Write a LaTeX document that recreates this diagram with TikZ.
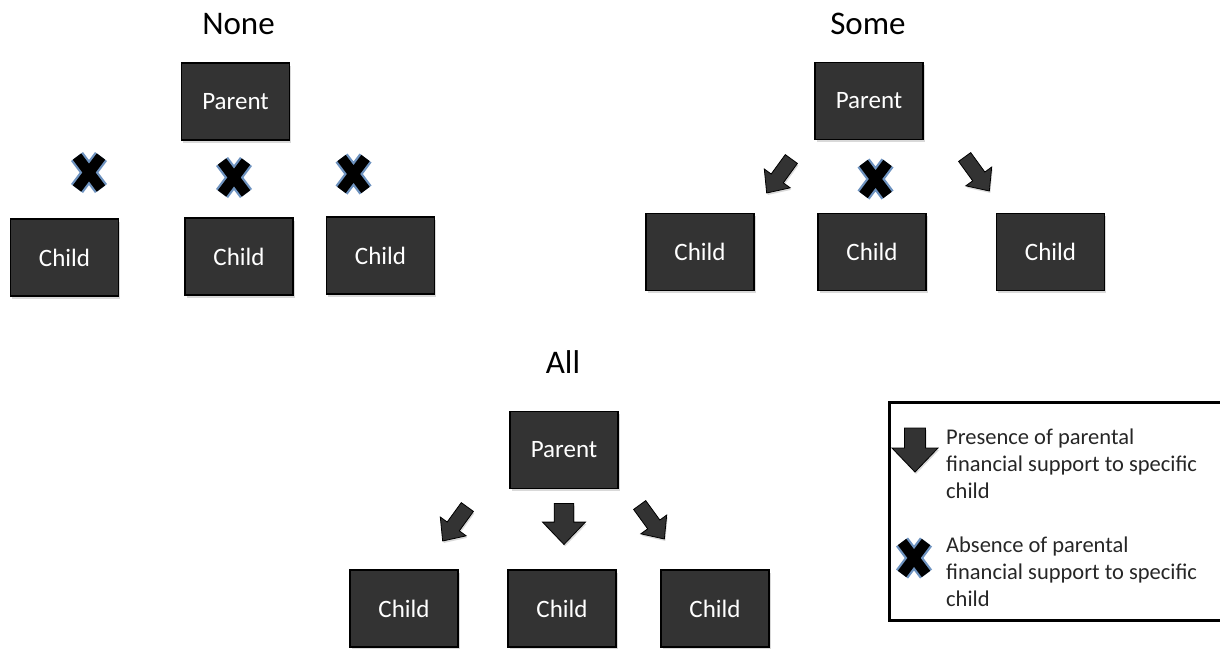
\documentclass[tikz,border=0pt]{standalone}
\usepackage{fontspec}
\setmainfont{Carlito}
\usetikzlibrary{shadows}
\definecolor{boxfill}{HTML}{333333}
\definecolor{glow}{HTML}{4A78B0}
\definecolor{legtext}{HTML}{262626}
\tikzset{
  famblock/.style={draw=black, line width=1.3pt, fill=boxfill, text=white,
    minimum width=108pt, minimum height=77pt, inner sep=0pt,
    font=\fontsize{25}{30}\selectfont,
    drop shadow={shadow xshift=1.5pt, shadow yshift=-2.5pt, opacity=0.3}},
  grouptitle/.style={font=\fontsize{33}{40}\selectfont, inner sep=0pt},
  legtxt/.style={font=\fontsize{22.5}{27}\selectfont, text=legtext, align=left, anchor=west, inner sep=0pt},
  xmark/.pic={
    \draw[glow, line width=15pt, opacity=0.8] (-12,-16) -- (12,16) (-12,16) -- (12,-16);
    \draw[black, line width=10.5pt] (-12,-16) -- (12,16) (-12,16) -- (12,-16);
  },
  bigarrow/.pic={
    \fill[boxfill, draw=black, line width=0.8pt,
      drop shadow={shadow xshift=1pt, shadow yshift=-2pt, opacity=0.3}]
      (-10.5,-22) -- (10.5,-22) -- (10.5,-2) -- (23,-2) -- (0,22) -- (-23,-2) -- (-10.5,-2) -- cycle;
  },
  tiltarrow/.pic={
    \fill[boxfill, draw=black, line width=0.8pt,
      drop shadow={shadow xshift=1pt, shadow yshift=-2pt, opacity=0.3}]
      (-7.5,-21) -- (7.5,-21) -- (7.5,3) -- (16,3) -- (0,21) -- (-16,3) -- (-7.5,3) -- cycle;
  }
}
\begin{document}
\begin{tikzpicture}[x=1pt, y=-1pt]
\useasboundingbox (0,0) rectangle (1220,648);

% ---------- None ----------
\node[grouptitle] (tnone) at (238.5,24) {None};
\node[famblock] (np) at (235.5,101.5) {Parent};
\node[famblock] (nc1) at (64.5,257.5) {Child};
\node[famblock] (nc2) at (239,256.5) {Child};
\node[famblock] (nc3) at (380.5,255.5) {Child};
\pic (nx1) at (89,172.5) {xmark};
\pic (nx2) at (234,177.5) {xmark};
\pic (nx3) at (353.5,174) {xmark};

% ---------- Some ----------
\node[grouptitle] (tsome) at (868,24) {Some};
\node[famblock] (sp) at (869,101) {Parent};
\node[famblock] (sc1) at (700,252) {Child};
\node[famblock] (sc2) at (872,252) {Child};
\node[famblock] (sc3) at (1050.5,252) {Child};
\pic[rotate=-36] (sa1) at (779,176) {tiltarrow};
\pic (sx2) at (875.5,179) {xmark};
\pic[rotate=36] (sa3) at (977,174) {tiltarrow};

% ---------- All ----------
\node[grouptitle] (tall) at (563,362) {All};
\node[famblock] (ap) at (564,450) {Parent};
\node[famblock] (ac1) at (404,608.5) {Child};
\node[famblock] (ac2) at (562,608.5) {Child};
\node[famblock] (ac3) at (715,608.5) {Child};
\pic[rotate=-36] (aa1) at (455,524) {tiltarrow};
\pic[scale=0.93] (aa2) at (564,524) {bigarrow};
\pic[rotate=36] (aa3) at (652,522) {tiltarrow};

% ---------- Legend ----------
\draw[black, line width=3pt] (1220,402) -| (889,620) -- (1220,620);
\pic (la) at (915,450) {bigarrow};
\pic (lx) at (914,558) {xmark};
\node[legtxt] (lt1) at (946,464) {Presence of parental\\financial support to specific\\child};
\node[legtxt] (lt2) at (946,572) {Absence of parental\\financial support to specific\\child};
\end{tikzpicture}
\end{document}
